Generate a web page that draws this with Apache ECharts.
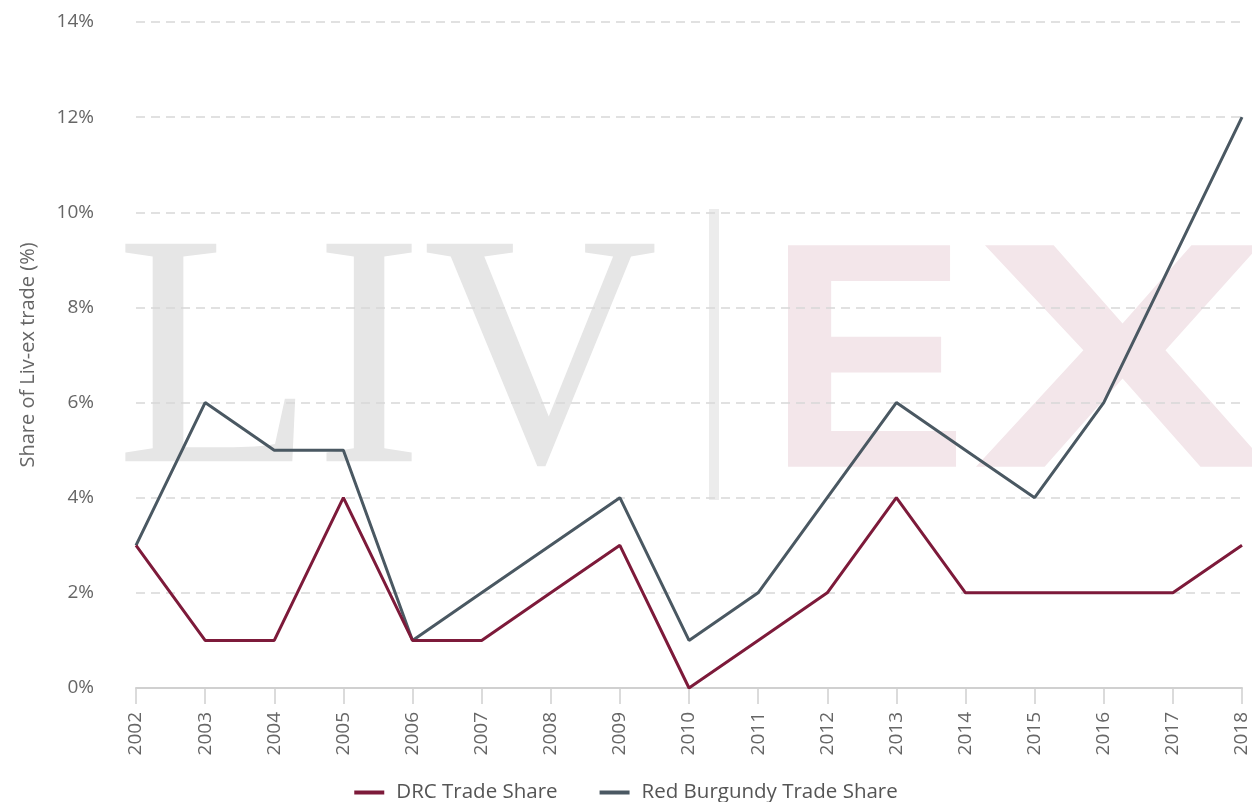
<!DOCTYPE html>
<html>
<head>
<meta charset="utf-8">
<style>
  html, body { margin: 0; padding: 0; background: #fff; }
  #main { width: 1252px; height: 802px; }
</style>
<script src="https://cdn.jsdelivr.net/npm/echarts@6/dist/echarts.min.js"></script>
</head>
<body>
<div id="main"></div>
<script>
const years = ["2002", "2003", "2004", "2005", "2006", "2007", "2008", "2009", "2010",
  "2011", "2012", "2013", "2014", "2015", "2016", "2017", "2018"];
const drcShare = [3, 1, 1, 4, 1, 1, 2, 3, 0, 1, 2, 4, 2, 2, 2, 2, 3];
const burgundyShare = [3, 6, 5, 5, 1, 2, 3, 4, 1, 2, 4, 6, 5, 4, 6, 9, 12];

const font = "Open Sans";
let chart = echarts.init(document.getElementById("main"), null, { renderer: "canvas" });

// background watermark
const watermark = [
  { type: "text", left: 116, top: 208, z: -10, silent: true, scaleX: 0.98,
    style: { text: "LIV", font: "332px 'Liberation Serif'", fill: "#e6e6e6" } },
  { type: "rect", left: 709, top: 209, z: -10, silent: true,
    shape: { width: 10, height: 291 }, style: { fill: "#ececec" } },
  { type: "text", left: 768, top: 217, z: -10, silent: true, scaleX: 0.93,
    style: { text: "E", font: "bold 322px 'Liberation Sans'", fill: "#f3e6ea" } },
  { type: "text", left: 972, top: 217, z: -10, silent: true, scaleX: 1.4,
    style: { text: "X", font: "bold 322px 'Liberation Sans'", fill: "#f3e6ea" } },
];

option = {
  backgroundColor: "#fff",
  animation: false,
  graphic: watermark,
  grid: { left: 136, right: 10, top: 22, bottom: 114 },
  legend: {
    bottom: -6,
    left: "center",
    itemWidth: 30,
    itemHeight: 4,
    itemGap: 42,
    icon: "rect",
    textStyle: { fontFamily: font, fontSize: 20.5, color: "#555", padding: [0, 0, 0, 7] },
    data: ["DRC Trade Share", "Red Burgundy Trade Share"],
  },
  xAxis: {
    type: "category",
    data: years,
    boundaryGap: false,
    axisLine: { lineStyle: { color: "#d0d0d0", width: 2 } },
    axisTick: { show: true, length: 16, lineStyle: { color: "#d0d0d0", width: 1.5 } },
    axisLabel: { rotate: 90, margin: 24, fontFamily: font, fontSize: 19, color: "#666" },
  },
  yAxis: {
    type: "value",
    min: 0,
    max: 14,
    interval: 2,
    name: "Share of Liv-ex trade (%)",
    nameLocation: "middle",
    nameGap: 98,
    nameTextStyle: { fontFamily: font, fontSize: 20, color: "#666" },
    axisLine: { show: false },
    axisTick: { show: false },
    axisLabel: { formatter: "{value}%", margin: 42, fontFamily: font, fontSize: 19, color: "#666" },
    splitLine: { lineStyle: { color: "#d8d8d8", type: [9, 6], width: 1.5 } },
  },
  series: [
    {
      name: "DRC Trade Share",
      type: "line",
      data: drcShare,
      showSymbol: false,
      color: "#7d1a3a",
      lineStyle: { width: 3 },
      z: 3,
    },
    {
      name: "Red Burgundy Trade Share",
      type: "line",
      data: burgundyShare,
      showSymbol: false,
      color: "#4a5862",
      lineStyle: { width: 3 },
      z: 2,
    },
  ],
};

chart.setOption(option);
window.addEventListener("resize", () => chart.resize());
</script>
</body>
</html>
